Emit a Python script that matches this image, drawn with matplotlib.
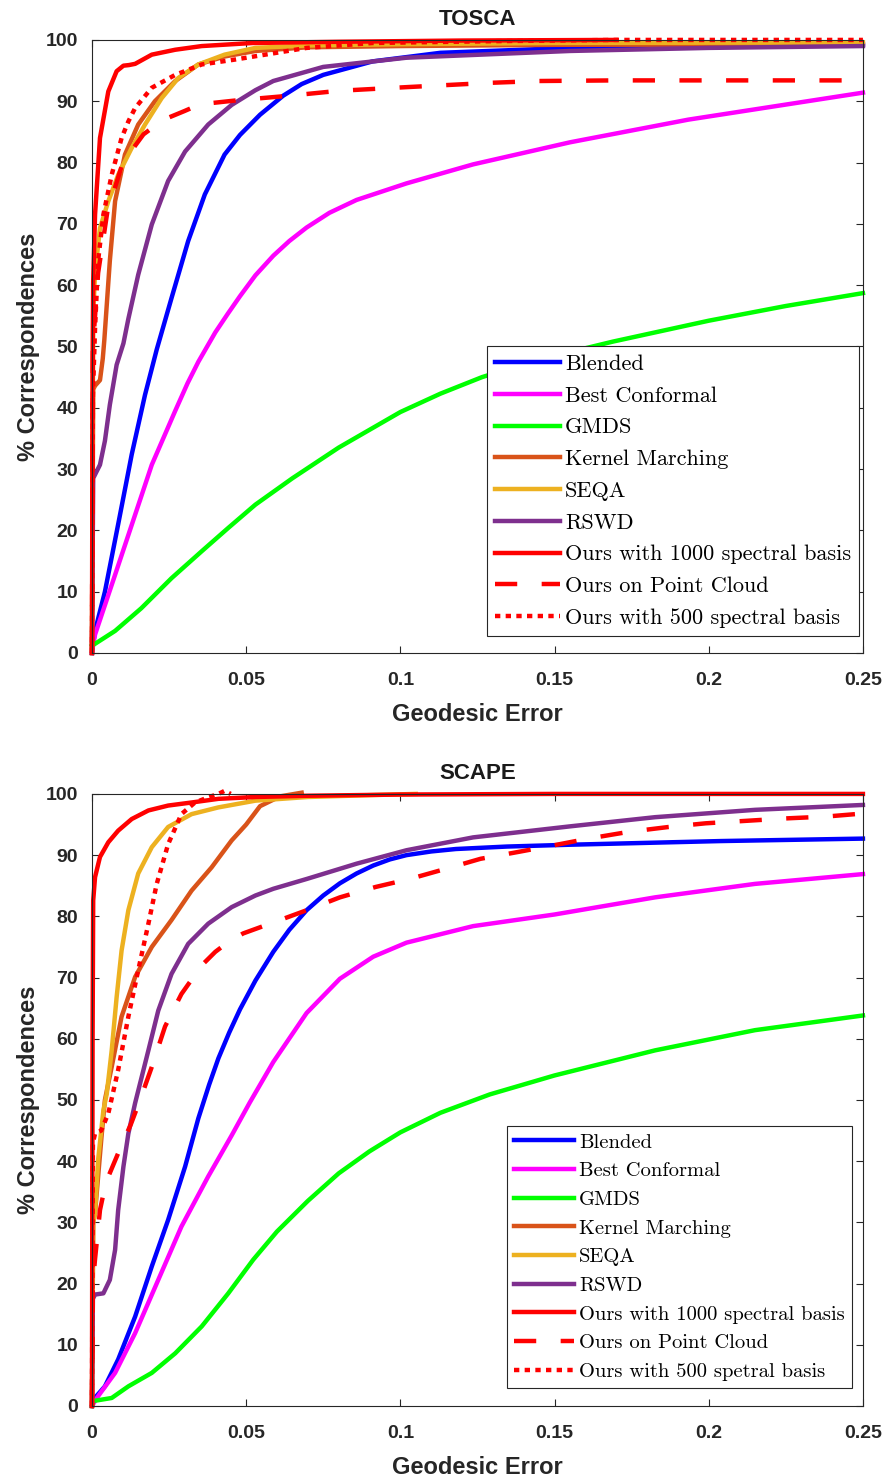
import matplotlib
matplotlib.use("Agg")
import matplotlib.pyplot as plt

# ---------------- TOSCA ----------------
tosca_blended_x = [0, 0.0004, 0.001, 0.0042, 0.0085, 0.0129, 0.0172, 0.021, 0.0258, 0.0312, 0.0366,
                   0.043, 0.048, 0.0545, 0.062, 0.068, 0.075, 0.091, 0.113, 0.155, 0.2, 0.25]
tosca_blended_y = [0, 1.5, 3.6, 10, 21, 32.4, 42.1, 49.5, 57.9, 67.2, 74.8,
                   81.3, 84.5, 87.8, 90.9, 92.8, 94.3, 96.5, 97.9, 98.7, 99.0, 99.2]

tosca_conformal_x = [0, 0.0004, 0.001, 0.0064, 0.0129, 0.0194, 0.027, 0.031, 0.0345, 0.04, 0.044,
                     0.048, 0.053, 0.0588, 0.064, 0.0696, 0.077, 0.0858, 0.102, 0.1236, 0.155,
                     0.1934, 0.25]
tosca_conformal_y = [0, 1.5, 3, 11.1, 20.9, 30.7, 39.5, 44, 47.5, 52.3, 55.3,
                     58.2, 61.6, 64.8, 67.2, 69.4, 71.8, 73.9, 76.6, 79.7, 83.3,
                     87, 91.4]

tosca_gmds_x = [0, 0.001, 0.0075, 0.016, 0.0258, 0.0356, 0.0442, 0.053, 0.065, 0.08, 0.1,
                0.113, 0.1265, 0.14, 0.155, 0.169, 0.2, 0.225, 0.25]
tosca_gmds_y = [1.2, 1.5, 3.6, 7.3, 12.2, 16.6, 20.4, 24.2, 28.5, 33.5, 39.3,
                42.3, 45, 47.1, 49.1, 50.8, 54.2, 56.6, 58.7]

tosca_km_x = [0, 0.0004, 0.001, 0.0026, 0.0035, 0.004, 0.0058, 0.0075, 0.0107, 0.015, 0.0204,
              0.027, 0.0345, 0.043, 0.053, 0.07, 0.1, 0.15, 0.25]
tosca_km_y = [0, 43, 43.6, 44.5, 48, 51, 64, 73.7, 81.3, 86.2, 90,
              93.3, 96, 97.3, 98.2, 98.8, 99, 99.2, 99.3]

tosca_seqa_x = [0, 0.0004, 0.001, 0.0026, 0.0053, 0.0085, 0.0129, 0.0172, 0.0226, 0.028, 0.0345,
                0.043, 0.053, 0.07, 0.1, 0.15, 0.25]
tosca_seqa_y = [0, 55, 62, 69.3, 73.7, 78, 82.4, 86.2, 90.5, 93.8, 96,
                97.6, 98.7, 99.1, 99.3, 99.5, 99.6]

tosca_rswd_x = [0, 0.0004, 0.001, 0.0026, 0.0042, 0.0058, 0.008, 0.0102, 0.0118, 0.015, 0.0194,
                0.0247, 0.0302, 0.0377, 0.0453, 0.053, 0.0588, 0.075, 0.102, 0.155, 0.2, 0.25]
tosca_rswd_y = [0, 28.5, 29.1, 30.7, 34.6, 40.5, 47, 50.5, 54.5, 61.7, 69.9,
                77, 81.8, 86.2, 89.4, 91.8, 93.3, 95.6, 97.1, 98.2, 98.7, 99]

tosca_ours1000_x = [0, 0.0002, 0.0004, 0.001, 0.0026, 0.0053, 0.008, 0.0102, 0.012, 0.014, 0.0194,
                    0.027, 0.0356, 0.052, 0.08, 0.12, 0.17]
tosca_ours1000_y = [0, 45, 60.7, 71.5, 84, 91.6, 94.9, 95.8, 95.9, 96.1, 97.6,
                    98.4, 99, 99.5, 99.7, 99.9, 100]

tosca_cloud_x = [0, 0.0003, 0.002, 0.005, 0.01, 0.0167, 0.021, 0.0247, 0.03, 0.035, 0.048,
                 0.064, 0.08, 0.102, 0.129, 0.145, 0.17, 0.25]
tosca_cloud_y = [0, 50, 62, 72, 80, 84.6, 86.2, 87.3, 88.4, 89.5, 90.2,
                 90.9, 91.7, 92.3, 93, 93.3, 93.4, 93.4]

tosca_ours500_x = [0, 0.0003, 0.001, 0.002, 0.0037, 0.0064, 0.0096, 0.0118, 0.014, 0.0194, 0.027,
                   0.0356, 0.0464, 0.0696, 0.091, 0.13, 0.17, 0.25]
tosca_ours500_y = [0, 42, 53, 64, 71.5, 78, 84, 86.7, 88.9, 92.2, 94.3,
                   96, 96.8, 98.7, 99.5, 99.8, 100, 100]

# ---------------- SCAPE ----------------
scape_blended_x = [0, 0.0004, 0.0042, 0.0085, 0.014, 0.0194, 0.0247, 0.0302, 0.0345, 0.038, 0.041,
                   0.0445, 0.048, 0.053, 0.0588, 0.064, 0.0696, 0.075, 0.0804, 0.0858, 0.0912,
                   0.0966, 0.102, 0.11, 0.118, 0.1345, 0.155, 0.204, 0.25]
scape_blended_y = [0, 1, 3.2, 7.6, 14.6, 22.8, 30.4, 39.1, 47, 52.5, 56.8,
                   61, 64.8, 69.5, 74.2, 77.8, 81, 83.4, 85.4, 87, 88.3,
                   89.3, 90, 90.6, 91, 91.4, 91.7, 92.3, 92.7]

scape_conformal_x = [0, 0.002, 0.0075, 0.014, 0.0215, 0.029, 0.0377, 0.0453, 0.0512, 0.0588, 0.0696,
                     0.0804, 0.0912, 0.102, 0.1236, 0.15, 0.1826, 0.215, 0.25]
scape_conformal_y = [0, 1.6, 5.4, 11.9, 20.6, 29.3, 37.5, 44.2, 49.6, 56.2, 64.2,
                     69.8, 73.4, 75.7, 78.4, 80.3, 83.1, 85.3, 86.9]

scape_gmds_x = [0, 0.0004, 0.0064, 0.0118, 0.0194, 0.027, 0.0356, 0.0442, 0.0523, 0.06, 0.07,
                0.08, 0.09, 0.1, 0.113, 0.129, 0.15, 0.1826, 0.215, 0.25]
scape_gmds_y = [0, 0.8, 1.3, 3.2, 5.4, 8.6, 13, 18.4, 23.9, 28.5, 33.5,
                38, 41.6, 44.7, 47.9, 50.9, 54, 58.1, 61.4, 63.8]

scape_km_x = [0, 0.0004, 0.001, 0.002, 0.0031, 0.0042, 0.0064, 0.0096, 0.014, 0.0194, 0.0258,
              0.0323, 0.0388, 0.0453, 0.05, 0.0545, 0.061, 0.068]
scape_km_y = [0, 30, 31.5, 37.5, 44, 50, 55.4, 63.6, 70.1, 75, 79.4,
              84.2, 88, 92.4, 95, 98, 99.6, 100.2]

scape_seqa_x = [0, 0.0004, 0.001, 0.002, 0.0037, 0.0048, 0.0064, 0.008, 0.0096, 0.0118, 0.015,
                0.0194, 0.0247, 0.0323, 0.041, 0.053, 0.07, 0.09, 0.105]
scape_seqa_y = [0, 30, 31.5, 40.2, 48.3, 51, 58.1, 66.8, 74.4, 81, 87,
                91.3, 94.6, 96.7, 97.8, 98.9, 99.5, 99.8, 100]

scape_rswd_x = [0, 0.0003, 0.001, 0.0037, 0.0058, 0.0075, 0.0085, 0.0102, 0.0118, 0.014, 0.0183,
                0.0215, 0.0258, 0.0312, 0.0377, 0.0453, 0.053, 0.0588, 0.0696, 0.0858, 0.102,
                0.1236, 0.155, 0.1826, 0.215, 0.25]
scape_rswd_y = [0, 17.5, 18.2, 18.4, 20.6, 25.5, 32, 39.1, 44.5, 49.5, 58.1,
                64.6, 70.6, 75.5, 78.8, 81.5, 83.4, 84.5, 86.1, 88.6, 90.8,
                92.9, 94.7, 96.2, 97.4, 98.2]

scape_ours1000_x = [0, 0.0002, 0.0004, 0.001, 0.0026, 0.0053, 0.0085, 0.0129, 0.0183, 0.0247, 0.0323,
                    0.041, 0.053, 0.07, 0.1, 0.15, 0.25]
scape_ours1000_y = [0, 60, 82.6, 86.4, 89.7, 92.1, 94, 95.9, 97.3, 98.1, 98.6,
                    99.2, 99.5, 99.7, 99.9, 100, 100]

scape_cloud_x = [0, 0.0003, 0.001, 0.0026, 0.0045, 0.007, 0.0095, 0.0126, 0.0156, 0.0194, 0.0237,
                 0.029, 0.0356, 0.04, 0.0442, 0.049, 0.061, 0.0707, 0.0804, 0.092, 0.103, 0.115,
                 0.126, 0.138, 0.1497, 0.161, 0.174, 0.187, 0.199, 0.212, 0.225, 0.238, 0.25]
scape_cloud_y = [0, 20, 24, 32, 36.5, 39.5, 42.5, 46, 50, 55.4, 62,
                 67.3, 72, 74.2, 75.8, 77.2, 79.4, 81.2, 83.1, 84.8, 86.1, 87.8,
                 89.4, 90.5, 91.6, 92.7, 93.8, 94.6, 95.2, 95.6, 96, 96.3, 96.8]

scape_ours500_x = [0, 0.0003, 0.001, 0.003, 0.0053, 0.0085, 0.0118, 0.015, 0.0183, 0.021, 0.0247,
                   0.029, 0.0334, 0.038, 0.041, 0.043, 0.045]
scape_ours500_y = [0, 43, 44.5, 45, 47.8, 54.9, 63.6, 71.2, 78.8, 85.3, 91.8,
                   96.7, 98.6, 99.5, 100, 100.5, 100]

labels = ["Blended", "Best Conformal", "GMDS", "Kernel Marching", "SEQA", "RSWD",
          "Ours with 1000 spectral basis", "Ours on Point Cloud"]
tosca_last_label = "Ours with 500 spectral basis"
scape_last_label = "Ours with 500 spetral basis"

colors = ["#0000ff", "#ff00ff", "#00ff00", "#d95319", "#edb120", "#7e2f8e",
          "#ff0000", "#ff0000", "#ff0000"]
styles = ["-", "-", "-", "-", "-", "-", "-", (0, (5, 5.5)), (0, (1.2, 1.2))]

xticks = [0, 0.05, 0.1, 0.15, 0.2, 0.25]
xticklabels = ["0", "0.05", "0.1", "0.15", "0.2", "0.25"]
yticks = list(range(0, 101, 10))

fig = plt.figure(figsize=(8.92, 14.79), dpi=100)
ax1 = fig.add_axes([0.1031, 0.5585, 0.8643, 0.4145])
ax2 = fig.add_axes([0.1031, 0.0494, 0.8643, 0.4138])

panels = [
    (ax1, "TOSCA",
     [(tosca_blended_x, tosca_blended_y), (tosca_conformal_x, tosca_conformal_y),
      (tosca_gmds_x, tosca_gmds_y), (tosca_km_x, tosca_km_y), (tosca_seqa_x, tosca_seqa_y),
      (tosca_rswd_x, tosca_rswd_y), (tosca_ours1000_x, tosca_ours1000_y),
      (tosca_cloud_x, tosca_cloud_y), (tosca_ours500_x, tosca_ours500_y)],
     labels + [tosca_last_label], (0.995, 0.028), 16, 0.55),
    (ax2, "SCAPE",
     [(scape_blended_x, scape_blended_y), (scape_conformal_x, scape_conformal_y),
      (scape_gmds_x, scape_gmds_y), (scape_km_x, scape_km_y), (scape_seqa_x, scape_seqa_y),
      (scape_rswd_x, scape_rswd_y), (scape_ours1000_x, scape_ours1000_y),
      (scape_cloud_x, scape_cloud_y), (scape_ours500_x, scape_ours500_y)],
     labels + [scape_last_label], (0.986, 0.029), 14.8, 0.5),
]

for ax, title, series, labs, anchor, lfs, lsp in panels:
    for (x, y), lab, c, ls in zip(series, labs, colors, styles):
        ax.plot(x, y, color=c, linestyle=ls, linewidth=3.2, label=lab,
                clip_on=False, dash_capstyle="butt", solid_joinstyle="round")
    ax.set_xlim(0, 0.25)
    ax.set_ylim(0, 100)
    ax.set_xticks(xticks)
    ax.set_xticklabels(xticklabels)
    ax.set_yticks(yticks)
    ax.tick_params(direction="in", top=True, right=True, length=5, width=0.8,
                   colors="#262626", labelsize=14)
    ax.tick_params(axis="x", pad=13.5)
    ax.tick_params(axis="y", pad=10)
    for lbl in ax.get_xticklabels() + ax.get_yticklabels():
        lbl.set_fontweight("bold")
        lbl.set_family("Liberation Sans")
    for sp in ax.spines.values():
        sp.set_color("#262626")
        sp.set_linewidth(0.8)
    ax.set_title(title, fontsize=16, fontweight="bold", family="Liberation Sans",
                 pad=10.5, color="#1a1a1a")
    ax.set_xlabel("Geodesic Error", fontsize=17, fontweight="bold",
                  family="Liberation Sans", labelpad=10, color="#262626")
    ax.set_ylabel("% Correspondences", fontsize=17, fontweight="bold",
                  family="Liberation Sans", labelpad=4, color="#262626")
    leg = ax.legend(loc="lower right", bbox_to_anchor=anchor, fancybox=False,
                    framealpha=1, edgecolor="#262626", handlelength=2.9,
                    handletextpad=0.25, labelspacing=lsp, borderpad=0.35,
                    borderaxespad=0, prop={"family": "cmr10", "size": lfs})
    leg.get_frame().set_linewidth(0.8)

fig.savefig("out.png", dpi=100)
